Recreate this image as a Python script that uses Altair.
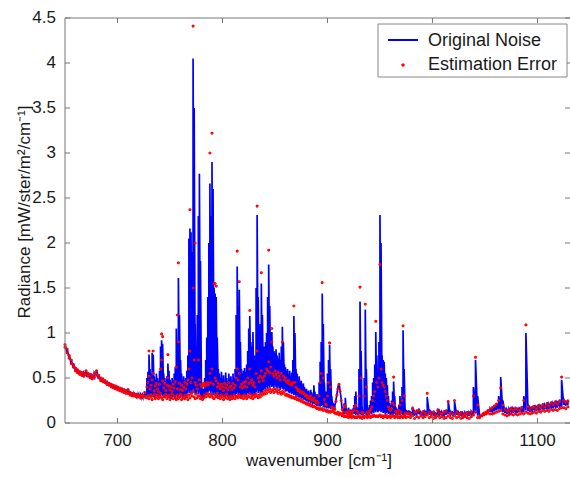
import altair as alt
import pandas as pd

# ---------------- data (radiance in hundredths of mW/ster/m2/cm-1) ----------------
wn_left = list(range(650, 728, 2))
hi_left = [88, 83, 76, 70, 66, 62, 60, 58, 57, 56,
           59, 56, 55, 53, 56, 59, 54, 51, 50, 48,
           47, 45, 44, 43, 42, 41, 40, 39, 38, 37,
           38, 35, 34, 33, 33, 32, 32, 32, 33]
lo_left = [83, 77, 71, 65, 61, 58, 55, 54, 52, 51,
           53, 51, 50, 48, 50, 53, 49, 47, 45, 44,
           42, 41, 40, 39, 38, 37, 36, 35, 34, 33,
           32, 31, 30, 29, 29, 28, 28, 28, 29]
err_a_left = [84, 78, 72, 66, 62, 58, 56, 54, 53, 52,
              54, 52, 50, 49, 51, 54, 50, 47, 46, 45,
              43, 42, 40, 39, 38, 37, 36, 35, 34, 33,
              33, 31, 30, 30, 29, 29, 28, 29, 29]
err_b_left = [87, 82, 75, 70, 65, 61, 59, 57, 56, 55,
              58, 55, 54, 52, 55, 58, 53, 50, 49, 47,
              45, 44, 43, 42, 41, 40, 39, 38, 37, 36,
              37, 34, 33, 32, 32, 31, 31, 31, 34]

wn_mid = list(range(728, 976))
hi_mid = [50, 57, 76, 60, 55, 78, 76, 52, 48, 55,
          50, 47, 58, 85, 92, 88, 55, 50, 47, 52,
          66, 58, 48, 45, 50, 47, 55, 62, 105, 90,
          161, 120, 70, 55, 48, 52, 46, 50, 58, 75,
          205, 216, 212, 190, 405, 350, 110, 85, 120, 230,
          277, 180, 45, 30, 38, 50, 70, 95, 140, 200,
          266, 230, 290, 260, 150, 144, 140, 95, 60, 55,
          50, 57, 48, 53, 45, 56, 50, 47, 55, 49,
          52, 47, 55, 50, 60, 120, 174, 130, 148, 90,
          60, 55, 58, 61, 57, 65, 80, 105, 119, 90,
          85, 101, 70, 75, 150, 231, 140, 95, 110, 155,
          120, 80, 85, 90, 100, 140, 176, 130, 95, 101,
          85, 80, 78, 82, 75, 72, 78, 70, 85, 107,
          90, 65, 62, 58, 60, 55, 58, 52, 56, 70,
          119, 100, 60, 55, 48, 52, 45, 47, 42, 44,
          40, 37, 38, 35, 36, 33, 37, 34, 32, 42,
          35, 30, 32, 28, 45, 68, 90, 144, 110, 45,
          30, 35, 55, 70, 87, 60, 30, 22, 20, 19,
          25, 32, 40, 44, 36, 27, 18, 14, 22, 28,
          16, 14, 17, 13, 15, 14, 16, 20, 30, 35,
          18, 16, 60, 135, 80, 17, 15, 50, 126, 60,
          18, 16, 20, 25, 30, 45, 50, 65, 101, 75,
          60, 90, 231, 200, 75, 70, 68, 55, 50, 42,
          30, 22, 20, 25, 35, 46, 30, 18, 16, 14,
          20, 30, 18, 40, 103, 60, 16, 14]
lo_mid = [31, 30, 32, 29, 33, 30, 31, 28, 30, 32,
          30, 28, 31, 29, 32, 30, 28, 31, 29, 30,
          31, 29, 27, 30, 28, 31, 29, 27, 30, 28,
          29, 31, 28, 30, 27, 29, 31, 28, 30, 33,
          35, 33, 36, 32, 38, 34, 31, 33, 35, 32,
          34, 31, 28, 27, 29, 30, 32, 31, 33, 35,
          36, 33, 35, 31, 34, 30, 32, 29, 31, 28,
          30, 28, 31, 29, 30, 28, 31, 29, 27, 30,
          28, 30, 29, 31, 30, 32, 34, 31, 33, 30,
          29, 31, 30, 32, 30, 31, 33, 32, 34, 31,
          32, 30, 33, 31, 34, 36, 33, 35, 32, 34,
          33, 36, 38, 37, 40, 38, 41, 39, 42, 40,
          41, 39, 42, 40, 38, 41, 39, 37, 40, 38,
          37, 38, 36, 35, 36, 34, 33, 34, 32, 33,
          31, 32, 30, 31, 29, 28, 29, 27, 28, 26,
          26, 25, 24, 25, 23, 24, 22, 23, 21, 22,
          21, 20, 19, 20, 19, 18, 19, 20, 18, 17,
          18, 16, 17, 16, 17, 15, 16, 17, 18, 18,
          25, 32, 40, 44, 36, 27, 14, 10, 10, 11,
          10, 9, 11, 8, 10, 9, 10, 11, 10, 9,
          10, 9, 11, 10, 9, 10, 8, 10, 11, 9,
          9, 10, 9, 11, 10, 12, 11, 13, 12, 14,
          12, 13, 14, 12, 13, 11, 12, 10, 11, 12,
          10, 11, 9, 10, 9, 10, 11, 9, 10, 9,
          10, 9, 11, 10, 9, 10, 8, 10]
err_a_mid = [28, 30, 27, 31, 29, 26, 30, 32, 27, 29,
             31, 27, 29, 33, 28, 26, 30, 29, 32, 27,
             29, 31, 26, 28, 32, 27, 30, 28, 26, 31,
             27, 29, 32, 26, 30, 28, 27, 31, 29, 26,
             31, 28, 33, 30, 35, 29, 27, 32, 28, 30,
             30, 27, 29, 26, 28, 31, 29, 33, 30, 32,
             29, 32, 30, 28, 27, 31, 29, 33, 28, 30,
             27, 31, 29, 26, 30, 28, 32, 27, 29, 26,
             30, 27, 28, 31, 27, 29, 30, 28, 31, 29,
             28, 30, 27, 31, 29, 27, 30, 29, 32, 28,
             30, 27, 31, 29, 32, 30, 28, 31, 29, 33,
             31, 34, 32, 36, 33, 37, 35, 38, 34, 36,
             37, 34, 38, 35, 36, 33, 37, 34, 32, 35,
             33, 35, 31, 32, 30, 31, 29, 30, 28, 29,
             28, 27, 29, 26, 27, 25, 26, 24, 25, 23,
             23, 22, 21, 22, 20, 21, 19, 20, 18, 19,
             18, 17, 16, 17, 15, 16, 15, 16, 14, 15,
             14, 13, 14, 12, 13, 12, 13, 14, 12, 11,
             11, 10, 12, 9, 11, 10, 8, 9, 7, 8,
             7, 8, 6, 8, 7, 6, 8, 7, 6, 7,
             6, 7, 8, 6, 7, 5, 7, 6, 8, 7,
             6, 8, 7, 6, 8, 7, 9, 8, 7, 8,
             7, 8, 9, 7, 8, 6, 8, 7, 9, 6,
             7, 8, 6, 7, 9, 8, 6, 7, 8, 6,
             7, 6, 8, 7, 6, 8, 7, 6]
err_b_mid = [40, 45, 52, 38, 42, 48, 55, 36, 41, 44,
             38, 35, 43, 60, 70, 47, 39, 44, 36, 42,
             50, 41, 37, 40, 35, 43, 39, 46, 62, 38,
             90, 44, 37, 42, 36, 40, 45, 38, 43, 48,
             60, 80, 45, 50, 150, 70, 45, 42, 38, 70,
             48, 43, 40, 42, 44, 41, 43, 45, 42, 44,
             55, 45, 60, 43, 155, 50, 47, 40, 44, 41,
             38, 43, 40, 36, 44, 39, 42, 37, 45, 40,
             41, 37, 44, 39, 42, 50, 60, 48, 55, 40,
             43, 39, 45, 41, 46, 40, 50, 44, 60, 45,
             48, 42, 45, 40, 55, 80, 50, 46, 52, 58,
             50, 47, 52, 55, 60, 58, 68, 56, 62, 90,
             55, 52, 58, 54, 50, 56, 52, 48, 55, 90,
             52, 48, 50, 46, 45, 47, 43, 44, 42, 45,
             130, 45, 40, 38, 36, 37, 34, 35, 33, 34,
             32, 30, 31, 28, 29, 27, 30, 26, 25, 28,
             25, 23, 24, 22, 30, 45, 55, 156, 50, 26,
             21, 20, 30, 45, 89, 40, 18, 17, 16, 15,
             24, 31, 38, 43, 35, 25, 15, 12, 20, 18,
             12, 11, 13, 10, 12, 11, 13, 14, 18, 20,
             13, 12, 30, 151, 50, 12, 11, 30, 132, 40,
             12, 11, 13, 15, 18, 25, 30, 35, 113, 45,
             40, 50, 176, 60, 45, 42, 40, 35, 30, 25,
             18, 15, 14, 16, 22, 51, 20, 13, 12, 11,
             14, 20, 12, 25, 108, 30, 11, 10]

wn_right = list(range(977, 1130, 2))
hi_right = [14, 12, 18, 13, 15, 16, 12, 14, 13, 29,
            15, 12, 14, 11, 16, 13, 12, 14, 15, 24,
            13, 12, 24, 14, 12, 13, 11, 12, 13, 12,
            13, 40, 70, 30, 7, 9, 11, 12, 14, 16,
            18, 20, 22, 30, 51, 25, 17, 15, 16, 18,
            16, 18, 17, 16, 19, 30, 100, 20, 17, 19,
            20, 18, 21, 19, 22, 20, 23, 21, 24, 22,
            25, 23, 26, 48, 27, 25, 26]
lo_right = [9, 8, 10, 8, 9, 10, 8, 9, 8, 10,
            9, 8, 9, 7, 10, 8, 9, 8, 9, 10,
            8, 9, 10, 9, 8, 9, 7, 8, 9, 8,
            9, 10, 11, 8, 7, 9, 11, 12, 14, 13,
            12, 13, 14, 15, 14, 12, 11, 10, 11, 12,
            11, 12, 11, 12, 13, 12, 14, 13, 12, 13,
            14, 13, 15, 14, 16, 15, 16, 15, 17, 16,
            18, 17, 19, 18, 20, 19, 20]
err_a_right = [7, 6, 8, 5, 7, 6, 8, 6, 7, 9,
               6, 7, 5, 6, 8, 6, 7, 5, 6, 8,
               6, 5, 8, 6, 7, 5, 6, 7, 6, 5,
               7, 9, 12, 6, 6, 8, 9, 10, 11, 10,
               10, 11, 12, 13, 14, 10, 9, 8, 9, 10,
               9, 10, 9, 10, 11, 10, 12, 11, 10, 11,
               12, 11, 13, 12, 14, 13, 14, 13, 15, 14,
               15, 14, 16, 17, 17, 16, 18]
err_b_right = [11, 10, 16, 12, 13, 14, 10, 12, 11, 33,
               12, 10, 12, 9, 14, 11, 10, 12, 13, 24,
               11, 10, 25, 12, 10, 11, 9, 10, 11, 10,
               12, 30, 73, 20, 7, 9, 11, 12, 14, 15,
               17, 19, 21, 25, 39, 20, 15, 13, 14, 16,
               14, 16, 15, 14, 17, 25, 109, 18, 15, 17,
               18, 16, 19, 17, 20, 18, 21, 19, 22, 20,
               23, 21, 24, 51, 25, 23, 24]

peak_err_wn = [730, 734, 742, 743, 748, 757, 758, 769, 772, 774, 788,
               790, 793, 794, 814, 816, 826, 833, 837, 844, 847]
peak_err_val = [80, 80, 99, 96, 76, 120, 178, 237, 441, 200, 300,
                322, 155, 152, 191, 157, 125, 241, 167, 192, 105]

x_ticks = [700, 800, 900, 1000, 1100]
x_labels = ["700", "800", "900", "1000", "1100"]
y_ticks = [0, 0.5, 1, 1.5, 2, 2.5, 3, 3.5, 4, 4.5]
y_labels = ["0", "0.5", "1", "1.5", "2", "2.5", "3", "3.5", "4", "4.5"]
SERIES = ["Original Noise", "Estimation Error"]
X_TITLE = "wavenumber [cm\u207b\u00b9]"
Y_TITLE = "Radiance [mW/ster/m\u00b2/cm\u207b\u00b9]"

# ---------------- tables ----------------
WN = wn_left + wn_mid + wn_right
HI = hi_left + hi_mid + hi_right
LO = lo_left + lo_mid + lo_right
ERA = err_a_left + err_a_mid + err_a_right
ERB = err_b_left + err_b_mid + err_b_right
assert len(WN) == len(HI) == len(LO) == len(ERA) == len(ERB)

line_rows = []
for i, (w, lo, hi) in enumerate(zip(WN, LO, HI)):
    line_rows.append((w, lo / 100, 2 * i))
    line_rows.append((w, hi / 100, 2 * i + 1))
df_line = pd.DataFrame(line_rows, columns=["wn", "val", "ord"])

df_pts = pd.DataFrame({
    "wn": WN + WN + peak_err_wn,
    "val": [v / 100 for v in ERA + ERB + peak_err_val],
})

df_xt = pd.DataFrame({"t": x_ticks, "lab": x_labels})
df_yt = pd.DataFrame({"t": y_ticks, "lab": y_labels})
df_leg1 = pd.DataFrame({"label": [SERIES[0]]})
df_leg2 = pd.DataFrame({"label": [SERIES[1]]})
df_xtitle = pd.DataFrame({"label": [X_TITLE]})
df_ytitle = pd.DataFrame({"label": [Y_TITLE]})

# ---------------- chart ----------------
W, H = 505, 405
FONT = "Liberation Sans"
TXT = "#1a1a1a"
AX = "#777777"
BLUE = "#0000ff"
RED = "#ff0000"
DOT = "M-0.07,0a0.07,0.07 0 1,0 0.14,0a0.07,0.07 0 1,0 -0.14,0"

xs = alt.Scale(domain=[650, 1131], nice=False, zero=False)
ys = alt.Scale(domain=[0, 4.5], nice=False, zero=False)

line = alt.Chart(df_line).mark_line(strokeWidth=1.7, color=BLUE).encode(
    x=alt.X("wn:Q", scale=xs, axis=None),
    y=alt.Y("val:Q", scale=ys, axis=None),
    order=alt.Order("ord:Q"),
)

pts = alt.Chart(df_pts).mark_point(size=625, shape=DOT, strokeWidth=1.3, filled=False,
                                   opacity=1, color=RED).encode(
    x=alt.X("wn:Q", scale=xs, axis=None),
    y=alt.Y("val:Q", scale=ys, axis=None),
)

# frame and inward ticks (Matlab style box)
left_frame = alt.Chart(df_leg1).mark_rule(color=AX, strokeWidth=1).encode(
    x=alt.value(0), y=alt.value(0), y2=alt.value(H))
bottom_frame = alt.Chart(df_leg1).mark_rule(color=AX, strokeWidth=1).encode(
    x=alt.value(0), x2=alt.value(W), y=alt.value(H))
top_frame = alt.Chart(df_leg1).mark_rule(color=AX, strokeWidth=1).encode(
    x=alt.value(0), x2=alt.value(W), y=alt.value(0))
xtick_bottom = alt.Chart(df_xt).mark_rule(color=AX, strokeWidth=1).encode(
    x=alt.X("t:Q", scale=xs, axis=None), y=alt.value(H), y2=alt.value(H - 5))
xtick_top = alt.Chart(df_xt).mark_rule(color=AX, strokeWidth=1).encode(
    x=alt.X("t:Q", scale=xs, axis=None), y=alt.value(0), y2=alt.value(5))
ytick_left = alt.Chart(df_yt).mark_rule(color=AX, strokeWidth=1).encode(
    y=alt.Y("t:Q", scale=ys, axis=None), x=alt.value(0), x2=alt.value(5))
ytick_right = alt.Chart(df_yt).mark_rule(color=AX, strokeWidth=1).encode(
    y=alt.Y("t:Q", scale=ys, axis=None), x=alt.value(W), x2=alt.value(W - 5))

# tick labels and axis titles
xlab = alt.Chart(df_xt).mark_text(align="center", baseline="alphabetic", font=FONT, fontSize=17,
                                  color=TXT).encode(
    x=alt.X("t:Q", scale=xs, axis=None), y=alt.value(H + 23), text="lab:N")
ylab = alt.Chart(df_yt).mark_text(align="right", baseline="middle", font=FONT, fontSize=17,
                                  color=TXT).encode(
    y=alt.Y("t:Q", scale=ys, axis=None), x=alt.value(-9), text="lab:N")
xtitle = alt.Chart(df_xtitle).mark_text(align="center", baseline="alphabetic", font=FONT,
                                        fontSize=17, color=TXT).encode(
    x=alt.value(254), y=alt.value(H + 43), text="label:N")
ytitle = alt.Chart(df_ytitle).mark_text(align="center", baseline="alphabetic", font=FONT,
                                        fontSize=17, color=TXT, angle=270).encode(
    x=alt.value(-35), y=alt.value(194), text="label:N")

# legend box (top-right, inside the plot)
leg_box = alt.Chart(df_leg1).mark_rect(fill="white", stroke="#888888", strokeWidth=1).encode(
    x=alt.value(313), x2=alt.value(502), y=alt.value(6), y2=alt.value(59))
leg_line = alt.Chart(df_leg1).mark_rule(color=BLUE, strokeWidth=2).encode(
    x=alt.value(323), x2=alt.value(353), y=alt.value(22))
leg_dot = alt.Chart(df_leg2).mark_point(size=625, shape=DOT, strokeWidth=1.6, filled=False,
                                        opacity=1, color=RED).encode(
    x=alt.value(338), y=alt.value(47))
leg_t1 = alt.Chart(df_leg1).mark_text(align="left", baseline="middle", font=FONT, fontSize=18,
                                      color=TXT).encode(x=alt.value(363), y=alt.value(23), text="label:N")
leg_t2 = alt.Chart(df_leg2).mark_text(align="left", baseline="middle", font=FONT, fontSize=18,
                                      color=TXT).encode(x=alt.value(363), y=alt.value(47), text="label:N")

chart = alt.layer(
    line, pts,
    left_frame, bottom_frame, top_frame, xtick_bottom, xtick_top, ytick_left, ytick_right,
    xlab, ylab, xtitle, ytitle,
    leg_box, leg_line, leg_dot, leg_t1, leg_t2,
).properties(
    width=W, height=H,
    padding={"left": 65, "top": 18, "right": 0, "bottom": 54},
    autosize=alt.AutoSizeParams(type="none"),
).configure_view(stroke=None)

chart.save("out.html", embed_options={"renderer": "svg", "actions": False})
